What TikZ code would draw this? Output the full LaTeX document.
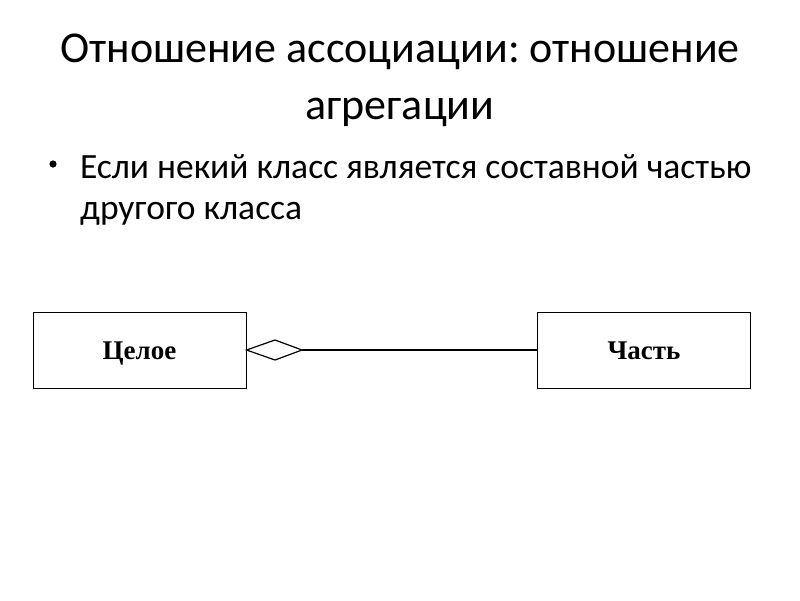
\documentclass[tikz,border=0pt]{standalone}
\usepackage{fontspec}
\setmainfont{Carlito}
\newfontfamily\boxfont{Liberation Serif}
\frenchspacing
\begin{document}
\begin{tikzpicture}[x=1pt,y=-1pt,
  classbox/.style={draw=black,line width=1pt,minimum width=213pt,minimum height=76pt,inner sep=0pt,text height=18pt,text depth=0pt,font=\boxfont\bfseries\fontsize{27}{32}\selectfont},
  titletext/.style={font=\fontsize{44}{53}\selectfont,anchor=base,inner sep=0pt},
  bodytext/.style={font=\fontsize{35.5}{42}\selectfont,anchor=base west,inner sep=0pt}]
\useasboundingbox[fill=white] (0,0) rectangle (800,600);
\node[titletext] (t1) at (400,62) {Отношение ассоциации: отношение};
\node[titletext] (t2) at (400,119) {агрегации};
\node[bodytext] (b1) at (80,178) {Если некий класс является составной частью};
\node[bodytext] (b2) at (80,219) {другого класса};
\fill (53,164) circle (3.6pt);
\node[classbox] (whole) at (139.5,350) {Целое};
\node[classbox] (part) at (644,350) {Часть};
\coordinate (dtip) at (302,350);
\draw[line width=1.2pt] (whole.east) -- (275,340) -- (dtip) -- (275,360) -- cycle;
\draw[line width=1.2pt] (dtip) -- (part.west);
\end{tikzpicture}
\end{document}
